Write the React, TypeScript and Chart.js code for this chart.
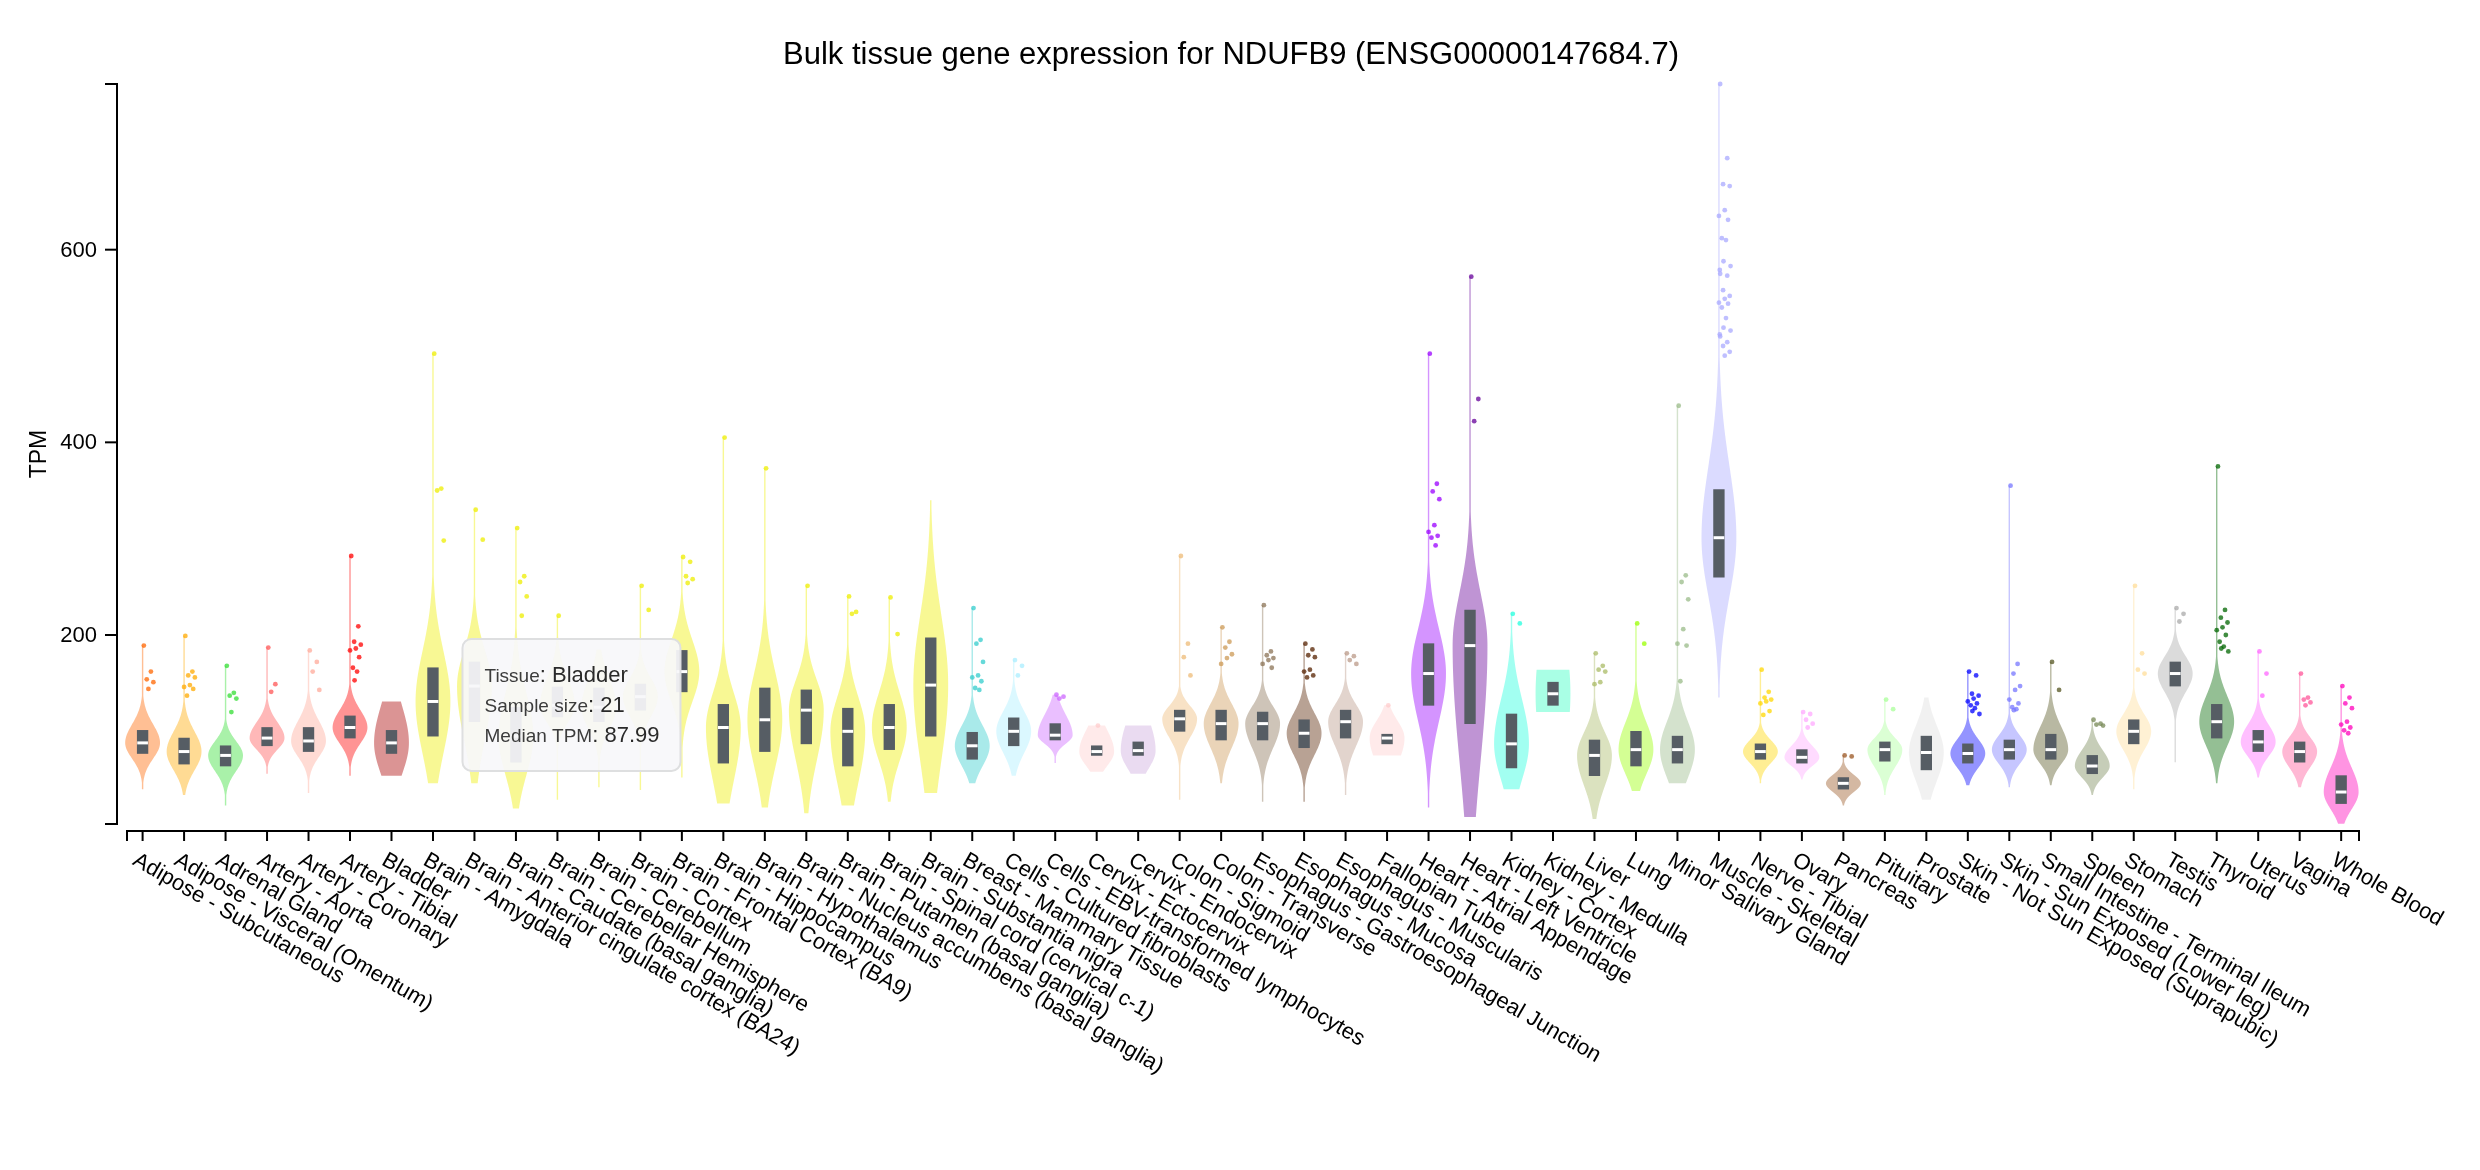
import { useEffect, useRef } from 'react';
import { Chart, registerables } from 'chart.js';

Chart.register(...registerables);

const FONT = '"Helvetica Neue", Helvetica, Arial, "Liberation Sans", sans-serif';

const tissues = [
  'Adipose - Subcutaneous', 'Adipose - Visceral (Omentum)', 'Adrenal Gland', 'Artery - Aorta',
  'Artery - Coronary', 'Artery - Tibial', 'Bladder', 'Brain - Amygdala',
  'Brain - Anterior cingulate cortex (BA24)', 'Brain - Caudate (basal ganglia)',
  'Brain - Cerebellar Hemisphere', 'Brain - Cerebellum', 'Brain - Cortex',
  'Brain - Frontal Cortex (BA9)', 'Brain - Hippocampus', 'Brain - Hypothalamus',
  'Brain - Nucleus accumbens (basal ganglia)', 'Brain - Putamen (basal ganglia)',
  'Brain - Spinal cord (cervical c-1)', 'Brain - Substantia nigra', 'Breast - Mammary Tissue',
  'Cells - Cultured fibroblasts', 'Cells - EBV-transformed lymphocytes', 'Cervix - Ectocervix',
  'Cervix - Endocervix', 'Colon - Sigmoid', 'Colon - Transverse',
  'Esophagus - Gastroesophageal Junction', 'Esophagus - Mucosa', 'Esophagus - Muscularis',
  'Fallopian Tube', 'Heart - Atrial Appendage', 'Heart - Left Ventricle', 'Kidney - Cortex',
  'Kidney - Medulla', 'Liver', 'Lung', 'Minor Salivary Gland', 'Muscle - Skeletal',
  'Nerve - Tibial', 'Ovary', 'Pancreas', 'Pituitary', 'Prostate',
  'Skin - Not Sun Exposed (Suprapubic)', 'Skin - Sun Exposed (Lower leg)',
  'Small Intestine - Terminal Ileum', 'Spleen', 'Stomach', 'Testis', 'Thyroid', 'Uterus',
  'Vagina', 'Whole Blood',
];

// GTEx tissue colours
const tissueColors = [
  '#FF6600', '#FFAA00', '#33DD33', '#FF5555', '#FFAA99', '#FF0000', '#AA0000',
  '#EEEE00', '#EEEE00', '#EEEE00', '#EEEE00', '#EEEE00', '#EEEE00', '#EEEE00',
  '#EEEE00', '#EEEE00', '#EEEE00', '#EEEE00', '#EEEE00', '#EEEE00',
  '#33CCCC', '#AAEEFF', '#CC66FF', '#FFCCCC', '#CCAADD', '#EEBB77', '#CC9955',
  '#8B7355', '#552200', '#BB9988', '#FFCCCC', '#9900FF', '#660099', '#22FFDD',
  '#33FFC2', '#AABB66', '#99FF00', '#99BB88', '#AAAAFF', '#FFD700', '#FFAAFF',
  '#995522', '#AAFF99', '#DDDDDD', '#0000FF', '#7777FF', '#555522', '#778855',
  '#FFDD99', '#AAAAAA', '#006600', '#FF66FF', '#FF5599', '#FF00BB',
];

// TPM summaries
const minTpm = [40, 34, 23, 56, 36, 54, 54, 46, 46, 20, 29, 42, 39, 52, 25, 21, 15, 23, 27, 36,
  46, 54, 67, 58, 56, 29, 46, 27, 27, 34, 75, 21, 11, 40, 120, 9, 38, 46, 135, 46, 50, 23, 34,
  29, 44, 42, 44, 34, 40, 68, 46, 52, 42, 4];
const q1Tpm = [77, 66, 64, 85, 79, 93, 77, 95, 110, 68, 115, 110, 122, 141, 67, 79, 87, 64, 81,
  95, 71, 85, 91, 75, 75, 100, 91, 91, 83, 93, 87, 127, 108, 62, 127, 54, 64, 67, 260, 71, 67,
  40, 69, 60, 67, 71, 71, 56, 87, 147, 93, 79, 68, 25];
const medianTpm = [88, 79, 75, 93, 90, 104, 87.99, 131, 147, 95, 127, 125, 136, 162, 104, 112,
  122, 100, 104, 148, 85, 100, 96, 79, 80, 113, 108, 108, 98, 110, 93, 160, 189, 87, 139, 75, 81,
  81, 301, 79, 73, 46, 81, 78, 77, 81, 81, 64, 100, 160, 110, 89, 79, 37];
const q3Tpm = [101, 93, 85, 104, 104, 116, 101, 166, 172, 125, 146, 145, 149, 184, 128, 145, 143,
  124, 128, 197, 99, 114, 108, 85, 89, 122, 122, 120, 112, 122, 97, 191, 226, 118, 151, 91, 100,
  95, 351, 87, 81, 52, 89, 95, 87, 91, 97, 75, 112, 172, 128, 101, 89, 54];
const maxTpm = [189, 199, 168, 187, 184, 282, 131, 492, 330, 311, 220, 185, 251, 281, 405, 373,
  251, 240, 239, 340, 228, 174, 138, 106, 106, 282, 208, 231, 191, 181, 127, 492, 572, 222, 164,
  181, 212, 438, 772, 164, 120, 75, 133, 135, 162, 355, 172, 112, 251, 228, 375, 183, 160, 147];
// kernel width factor of each violin (small samples look blockier)
const kdeSpread = [1, 1, 1, 1, 1, 1, 2, 1, 1, 1, 1, 1, 1, 1, 1, 1, 1, 1, 1, 1, 1, 1, 1.2, 2.5,
  2.5, 1, 1, 1, 1, 1, 3, 1, 1, 1, 4, 1, 1, 1.4, 1, 1, 1, 1, 1, 1.1, 1, 1, 1, 1, 1, 1, 1, 1, 1, 1];

const outlierTpm = [
  [189, 162, 154, 151, 144],
  [199, 162, 158, 156, 148, 146, 144, 137],
  [168, 140, 137, 134, 120],
  [187, 149, 141],
  [184, 172, 162, 143],
  [282, 209, 193, 190, 186, 184, 177, 166, 162, 153],
  [],
  [492, 352, 350, 298],
  [330, 299],
  [311, 261, 255, 240, 220],
  [220],
  [],
  [251, 226],
  [281, 276, 261, 258, 254],
  [405],
  [373],
  [251],
  [240, 224, 222],
  [239, 201],
  [],
  [228, 195, 191, 172, 158, 156, 152, 145, 143],
  [174, 168, 158],
  [138, 136, 134],
  [106],
  [],
  [282, 191, 177, 158],
  [208, 193, 187, 180, 176, 170],
  [231, 183, 179, 176, 174, 170, 166],
  [191, 185, 179, 177, 164, 162, 158, 156],
  [181, 178, 174, 170],
  [127],
  [492, 357, 349, 341, 314, 307, 303, 301, 293],
  [572, 445, 422],
  [222, 212],
  [],
  [181, 168, 164, 162, 151, 149],
  [212, 191],
  [438, 262, 255, 237, 206, 191, 189, 152],
  [772, 695, 668, 666, 641, 635, 631, 612, 610, 588, 583, 579, 575, 573, 558, 552, 549, 545,
    544, 540, 529, 519, 516, 512, 510, 504, 500, 494, 490],
  [164, 141, 135, 133, 131, 129, 121, 117],
  [120, 118, 112, 108, 104],
  [75, 74],
  [133, 123],
  [],
  [162, 158, 139, 137, 134, 131, 129, 127, 124, 121, 118],
  [355, 170, 160, 147, 143, 133, 129, 125, 123, 122],
  [172, 143],
  [112, 108, 107, 106],
  [251, 181, 164, 160],
  [228, 222, 214],
  [375, 226, 218, 213, 208, 205, 200, 193, 188, 186, 183],
  [183, 160, 137],
  [160, 135, 133, 130, 127],
  [147, 135, 129, 124, 110, 107, 104, 101, 98],
];

const yTicks = [200, 400, 600];
const hoverTissue = 6; // Bladder
const hoverSampleSize = 21;

const jitter = [0.03, 0.2, 0.1, 0.26, 0.14, 0.0, 0.22, 0.07, 0.17, 0.11, 0.28, 0.02];

function rgba(hex: string, a: number) {
  const n = parseInt(hex.slice(1), 16);
  return `rgba(${(n >> 16) & 255},${(n >> 8) & 255},${n & 255},${a})`;
}

const yMin = Math.min(...minTpm) - 0.2;
const yMax = Math.max(...maxTpm);

const violinPlugin = {
  id: 'violins',
  beforeDatasetsDraw(chart: any) {
    const { ctx, scales: { x, y } } = chart;
    const half = (x.getPixelForValue(1) - x.getPixelForValue(0)) * 0.42;
    ctx.save();
    tissues.forEach((_, i) => {
      const lo = minTpm[i];
      const hi = maxTpm[i];
      const med = medianTpm[i];
      const sLo = Math.max((med - q1Tpm[i]) / 0.6745, 3) * kdeSpread[i];
      const sHi = Math.max((q3Tpm[i] - med) / 0.6745, 3) * kdeSpread[i];
      const cx = x.getPixelForValue(i);
      const steps = 200;
      const side: [number, number][] = [];
      for (let s = 0; s <= steps; s++) {
        const v = lo + ((hi - lo) * s) / steps;
        const z = (v - med) / (v < med ? sLo : sHi);
        side.push([Math.max(Math.exp(-0.5 * z * z) * half, 0.7), y.getPixelForValue(v)]);
      }
      ctx.beginPath();
      side.forEach(([w, py], n) => (n ? ctx.lineTo(cx + w, py) : ctx.moveTo(cx + w, py)));
      for (let n = side.length - 1; n >= 0; n--) ctx.lineTo(cx - side[n][0], side[n][1]);
      ctx.closePath();
      ctx.fillStyle = rgba(tissueColors[i], 0.42);
      ctx.fill();
    });
    ctx.restore();
  },
};

const axesPlugin = {
  id: 'axes',
  afterDatasetsDraw(chart: any) {
    const { ctx, chartArea, scales: { x, y } } = chart;
    ctx.save();
    ctx.strokeStyle = '#000';
    ctx.fillStyle = '#000';
    ctx.lineWidth = 2;

    // y axis, offset to the left of the plot
    const ax = chartArea.left - 10;
    const yTop = y.getPixelForValue(yMax);
    const yBot = y.getPixelForValue(yMin);
    ctx.beginPath();
    ctx.moveTo(ax - 12, yTop);
    ctx.lineTo(ax, yTop);
    ctx.lineTo(ax, yBot);
    ctx.lineTo(ax - 12, yBot);
    ctx.stroke();
    ctx.font = `22px ${FONT}`;
    ctx.textAlign = 'right';
    ctx.textBaseline = 'middle';
    yTicks.forEach((t) => {
      const py = y.getPixelForValue(t);
      ctx.beginPath();
      ctx.moveTo(ax - 12, py);
      ctx.lineTo(ax, py);
      ctx.stroke();
      ctx.fillText(String(t), ax - 20, py + 1);
    });
    ctx.save();
    ctx.translate(40, (yTop + yBot) / 2);
    ctx.rotate(-Math.PI / 2);
    ctx.textAlign = 'center';
    ctx.font = `23px ${FONT}`;
    ctx.fillText('TPM', 0, 0);
    ctx.restore();

    // x axis, offset below the plot
    const ay = yBot + 7;
    ctx.beginPath();
    ctx.moveTo(chartArea.left, ay + 10);
    ctx.lineTo(chartArea.left, ay);
    ctx.lineTo(chartArea.right, ay);
    ctx.lineTo(chartArea.right, ay + 10);
    ctx.stroke();
    ctx.font = `22px ${FONT}`;
    ctx.textAlign = 'left';
    ctx.textBaseline = 'alphabetic';
    tissues.forEach((name, i) => {
      const px = x.getPixelForValue(i);
      ctx.beginPath();
      ctx.moveTo(px, ay);
      ctx.lineTo(px, ay + 10);
      ctx.stroke();
      ctx.save();
      ctx.translate(px - 11, ay + 33);
      ctx.rotate(Math.PI / 6);
      ctx.fillText(name, 0, 0);
      ctx.restore();
    });

    // title
    ctx.font = `31px ${FONT}`;
    ctx.textAlign = 'center';
    ctx.fillText('Bulk tissue gene expression for NDUFB9 (ENSG00000147684.7)', 1231, 64);
    ctx.restore();
  },
};

const hoverPlugin = {
  id: 'hoverBox',
  afterDraw(chart: any) {
    const { ctx, scales: { x, y } } = chart;
    const left = x.getPixelForValue(hoverTissue) + 71;
    const top = y.getPixelForValue(medianTpm[hoverTissue]) - 104;
    const w = 218;
    const h = 132;
    ctx.save();
    ctx.beginPath();
    ctx.roundRect(left, top, w, h, 9);
    ctx.fillStyle = 'rgba(247,248,250,0.93)';
    ctx.fill();
    ctx.lineWidth = 2;
    ctx.strokeStyle = '#dedfe0';
    ctx.stroke();
    const rows: [string, string][] = [
      ['Tissue', tissues[hoverTissue]],
      ['Sample size', String(hoverSampleSize)],
      ['Median TPM', medianTpm[hoverTissue].toFixed(2)],
    ];
    ctx.textAlign = 'left';
    ctx.textBaseline = 'alphabetic';
    rows.forEach(([label, value], r) => {
      const bx = left + 22;
      const by = top + 43 + r * 30;
      ctx.font = `300 19px ${FONT}`;
      ctx.fillStyle = '#3c3c3c';
      ctx.fillText(label, bx, by);
      const lw = ctx.measureText(label).width;
      ctx.font = `22px ${FONT}`;
      ctx.fillStyle = '#2a2a2a';
      ctx.fillText(': ' + value, bx + lw, by);
    });
    ctx.restore();
  },
};

export default function App() {
  const canvasRef = useRef<HTMLCanvasElement | null>(null);

  useEffect(() => {
    const canvas = canvasRef.current;
    if (!canvas) return;

    const outlierPoints: { x: number; y: number }[] = [];
    const outlierColors: string[] = [];
    outlierTpm.forEach((vals, i) => {
      vals.forEach((v, k) => {
        outlierPoints.push({ x: i + jitter[k % jitter.length], y: v });
        outlierColors.push(rgba(tissueColors[i], 0.75));
      });
    });

    const chart = new Chart(canvas, {
      type: 'bar',
      data: {
        datasets: [
          {
            type: 'scatter',
            label: 'Outliers',
            data: outlierPoints,
            pointRadius: 2.4,
            pointBorderWidth: 0,
            pointBackgroundColor: outlierColors,
            clip: false,
            order: 0,
          },
          {
            type: 'scatter',
            label: 'Median',
            data: medianTpm.map((m, i) => ({ x: i, y: m })),
            pointStyle: 'line',
            pointRadius: 5.35,
            pointBorderWidth: 3,
            pointBorderColor: '#ffffff',
            clip: false,
            order: 1,
          },
          {
            type: 'bar',
            label: 'IQR',
            data: q1Tpm.map((q, i) => ({ x: i, y: [q, q3Tpm[i]] })) as any,
            backgroundColor: '#565d64',
            borderWidth: 0,
            barThickness: 10.7,
            clip: false,
            order: 2,
          },
        ],
      } as any,
      options: {
        responsive: false,
        devicePixelRatio: 1,
        animation: false,
        events: [],
        layout: { padding: { left: 127, right: 121, top: 84, bottom: 346 } },
        plugins: {
          legend: { display: false },
          tooltip: { enabled: false },
          title: { display: false },
        },
        scales: {
          x: { type: 'linear', offset: false, min: -0.376, max: 53.43, display: false },
          y: { type: 'linear', min: yMin, max: yMax, display: false },
        },
      } as any,
      plugins: [violinPlugin, axesPlugin, hoverPlugin],
    });

    return () => chart.destroy();
  }, []);

  return (
    <div style={{ position: 'fixed', left: 0, top: 0, width: 2480, height: 1170, background: '#fff' }}>
      <canvas ref={canvasRef} width={2480} height={1170} style={{ width: 2480, height: 1170 }} />
    </div>
  );
}
